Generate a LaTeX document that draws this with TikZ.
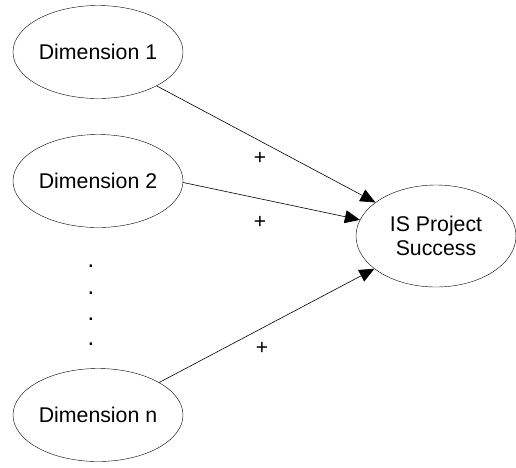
\documentclass[tikz,border=0pt]{standalone}
\usepackage{fontspec}
\setmainfont{Liberation Sans}
\usetikzlibrary{shapes.geometric,arrows.meta}
\begin{document}
\begin{tikzpicture}[x=1pt,y=-1pt,
  dim/.style={draw,ellipse,inner sep=0pt,minimum width=170pt,minimum height=93pt,font=\fontsize{21.3}{24}\selectfont},
  succ/.style={draw,ellipse,inner sep=0pt,minimum width=160pt,minimum height=102pt,align=center,font=\fontsize{21.3}{24}\selectfont},
  arr/.style={-{Triangle[length=15pt,width=13pt]},line width=0.6pt},
  plus/.style={font=\fontsize{21}{23}\selectfont,inner sep=0pt},
  dotmark/.style={font=\fontsize{24}{23}\selectfont,inner sep=0pt,anchor=base}]
\useasboundingbox (0,0) rectangle (516,467);
\node[dim] (d1) at (98,52) {Dimension 1};
\node[dim] (d2) at (98,181) {Dimension 2};
\node[dim] (dn) at (98,415) {Dimension n};
\node[succ] (s) at (436,236) {IS Project\\Success};
\draw[arr] (d1.-30) -- (s.151);
\draw[arr] (d2.-1) -- (s.168);
\draw[arr] (dn.28) -- (s.208);
\node[plus] (p1) at (260,158) {+};
\node[plus] (p2) at (260,222) {+};
\node[plus] (p3) at (262,348) {+};
\node[dotmark] (o1) at (91,267) {.};
\node[dotmark] (o2) at (91,294) {.};
\node[dotmark] (o3) at (91,320) {.};
\node[dotmark] (o4) at (91,345) {.};
\end{tikzpicture}
\end{document}
